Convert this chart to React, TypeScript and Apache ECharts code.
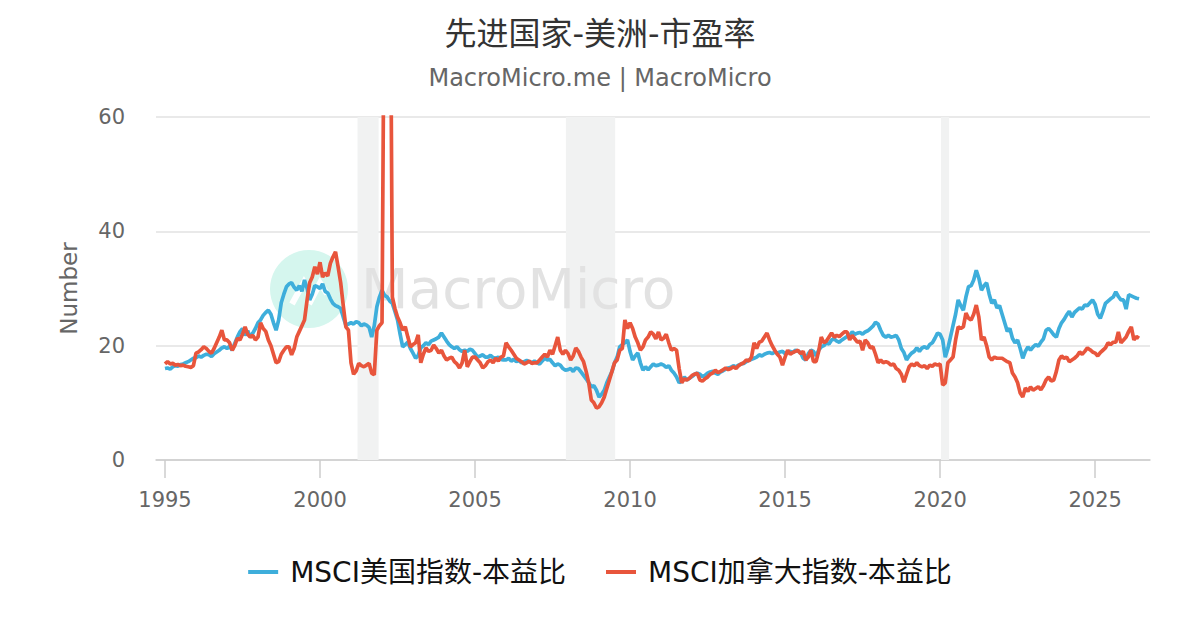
import React, { useEffect, useRef } from "react";
import * as echarts from "echarts";

const START_YEAR = 1995;

// MSCI USA P/E, monthly from Jan 1995
const usPE = [
  16.0, 16.1, 15.9, 16.3, 16.5, 16.4, 16.7, 16.8, 17.0, 17.2, 17.5, 17.8,
  17.9, 18.2, 18.0, 18.3, 18.5, 18.4, 18.1, 18.6, 18.9, 19.2, 19.6, 19.8,
  19.5, 19.9, 19.2, 20.4, 21.5, 22.4, 23.0, 21.8, 22.6, 21.5, 22.2, 23.0,
  24.0, 24.5, 25.3, 25.8, 26.2, 25.5, 24.0, 22.7, 24.5, 27.5, 29.0, 30.3,
  30.8, 31.0, 30.2, 29.7, 30.5, 29.5, 31.5, 30.0, 28.0, 29.0, 30.5, 30.3,
  30.0, 30.8, 29.5, 29.2, 28.2, 27.4, 27.0, 26.8, 26.5, 25.0, 23.6, 23.8,
  24.0, 23.8, 24.2, 24.0, 23.5, 23.8, 23.6, 23.2, 21.5, 23.5, 26.8, 28.5,
  29.7, 28.8, 28.5, 27.8, 27.4, 26.0, 24.5, 22.0, 19.8, 20.2, 20.6, 19.5,
  18.7, 17.8, 18.3, 19.6, 20.0, 20.5, 20.2, 20.8, 21.0, 21.2, 21.5, 22.2,
  21.5, 20.8, 20.2, 19.8, 19.5, 19.8, 19.3, 19.0, 19.2, 19.0, 19.4, 19.2,
  18.6, 18.0, 18.2, 18.4, 18.0, 18.0, 18.3, 17.9, 17.8, 18.0, 17.6, 17.5,
  17.5, 17.8, 17.3, 17.6, 17.2, 17.4, 17.0, 17.2, 17.4, 17.2, 17.0, 17.3,
  17.0, 16.8, 17.3, 17.8, 17.5, 17.6, 17.0, 16.5, 16.8, 16.6, 16.0, 15.7,
  15.8, 16.0, 15.5, 16.1, 16.0, 15.4, 14.8, 14.2, 13.5, 12.8, 13.0, 12.2,
  11.0, 11.5, 12.2, 13.5, 14.5, 15.5, 17.0, 18.0, 19.8, 20.2, 20.5, 21.0,
  19.0, 17.5, 18.2, 18.7, 17.0, 15.7, 16.3, 15.8, 16.3, 16.8, 16.5, 16.6,
  16.8, 16.6, 16.2, 16.5, 15.7, 15.2, 14.5, 13.5, 13.8, 14.5, 14.0, 14.3,
  14.6, 15.0, 15.2, 15.0, 14.6, 14.8, 15.2, 15.4, 15.5, 15.2, 15.0, 15.4,
  15.6, 15.9, 16.1, 16.2, 16.5, 16.3, 16.6, 16.8, 16.9, 17.2, 17.5, 17.6,
  17.8, 18.0, 18.4, 18.2, 18.5, 18.7, 18.8, 18.6, 18.9, 18.7, 18.9, 19.0,
  18.6, 18.9, 19.0, 18.8, 19.2, 19.0, 18.8, 17.8, 17.5, 18.6, 19.2, 19.0,
  18.2, 19.2, 19.8, 20.0, 20.5, 20.3, 21.0, 21.2, 20.8, 20.6, 21.0, 21.3,
  21.6, 21.8, 22.4, 22.0, 22.2, 22.3, 22.0, 22.4, 22.6, 23.0, 23.4, 24.1,
  23.8, 22.7, 21.8, 21.5, 21.8, 21.5, 21.6, 21.8, 21.0, 19.5, 18.8, 17.5,
  18.2, 18.7, 19.0, 19.6, 19.0, 19.6, 19.8, 19.5, 20.2, 20.5, 21.3, 22.2,
  22.0, 21.0, 18.0, 19.5, 21.5, 23.5, 25.5, 28.0, 27.0, 26.2, 28.5, 30.3,
  30.5, 31.5, 33.2, 31.8, 29.7, 30.5, 31.0, 29.0, 27.4, 28.0, 26.6, 27.0,
  25.5, 24.0, 22.5, 23.0, 21.3, 20.5, 21.0, 19.5, 17.8, 19.0, 19.8, 19.2,
  19.8, 20.2, 19.9, 20.6, 21.2, 22.7, 23.0, 22.5, 21.9, 21.5, 23.0, 24.0,
  24.6, 25.4, 26.0, 25.0, 25.8, 26.2, 26.6, 26.4, 27.1, 27.0, 27.5, 28.0,
  27.2, 25.5, 24.8, 26.0, 27.4, 27.8, 28.2, 28.5, 29.4, 28.6, 28.0, 28.0,
  26.4, 28.9, 28.7, 28.5, 28.3, 28.2,
];

// MSCI Canada P/E, monthly from Jan 1995
const caPE = [
  16.8, 17.2, 16.8, 16.9, 16.6, 16.7, 16.5, 16.6, 16.4, 16.3, 16.2, 16.5,
  18.7, 18.9, 19.3, 19.8, 19.5, 19.0, 18.7, 19.5, 20.5, 21.5, 22.7, 21.0,
  21.0, 20.5, 19.2, 20.0, 21.3, 21.0, 22.0, 23.3, 22.0, 21.5, 21.8, 21.0,
  21.5, 24.0, 23.0, 22.5, 21.0, 20.0, 18.5, 17.0, 17.2, 18.5, 19.2, 19.8,
  19.8, 18.4, 19.5, 21.5, 22.5, 23.5, 24.5, 28.0, 31.0, 32.0, 33.8, 32.5,
  34.6, 32.0, 32.7, 32.2, 34.4, 35.5, 36.4, 33.8, 31.0, 27.0, 23.3, 22.7,
  17.0, 15.0, 15.6, 16.9, 16.5, 16.3, 16.6, 16.9, 15.2, 14.9, 22.7, 23.5,
  24.0, 95.0, 130.0, 105.0, 28.5, 26.5, 25.0, 24.0, 22.7, 23.3, 21.5, 19.8,
  20.2, 20.5, 21.9, 17.0, 18.5, 19.6, 19.0, 19.2, 20.1, 19.5, 18.7, 19.2,
  18.2, 17.5, 17.8, 18.0, 17.2, 16.8, 16.1, 17.0, 19.2, 16.3, 17.2, 18.0,
  18.0, 17.5, 17.0, 16.1, 16.5, 17.2, 17.5, 17.0, 17.8, 17.3, 18.0, 18.2,
  20.5, 19.8, 19.2, 18.5, 17.8, 17.5, 17.2, 16.8, 17.0, 17.3, 16.9, 17.0,
  17.0, 17.5, 18.0, 18.5, 18.0, 19.2, 18.5, 20.0, 21.5, 19.2, 18.5, 19.2,
  18.6, 17.5, 18.2, 19.6, 19.0, 18.0, 17.2, 15.5, 13.5, 10.5, 10.0, 9.1,
  9.3, 10.0, 11.0, 12.5, 14.0, 15.5, 17.0, 17.5, 19.2, 19.5, 24.5, 23.0,
  24.0, 23.0, 21.5, 20.5, 19.2, 19.8, 21.0, 21.5, 22.4, 22.0, 21.2, 22.4,
  21.0, 21.3, 22.0, 20.5, 19.2, 19.5, 19.2, 16.0, 13.5, 14.2, 14.0, 14.3,
  14.8, 15.0, 15.2, 14.0, 13.8, 14.2, 14.5, 15.0, 15.2, 15.7, 15.3, 15.5,
  15.8, 16.1, 15.8, 16.0, 16.3, 16.0, 16.5, 16.8, 17.0, 17.5, 17.3, 18.0,
  20.5, 19.5, 20.6, 20.8, 21.5, 22.2, 21.0, 20.0, 19.2, 18.5, 18.0, 16.6,
  18.0, 19.2, 18.5, 18.8, 19.0, 19.2, 18.6, 19.0, 17.5, 18.0, 19.2, 17.2,
  17.2, 19.0, 21.5, 20.5, 20.8, 21.5, 22.2, 21.5, 21.8, 21.6, 22.0, 22.4,
  22.4, 21.0, 21.8, 21.2, 20.6, 20.8, 19.2, 21.0, 20.5, 19.6, 19.8, 18.5,
  17.0, 17.5, 17.0, 17.2, 17.0, 16.6, 16.8, 16.0, 15.7, 15.0, 13.6, 15.0,
  16.3, 16.8, 16.5, 17.0, 16.5, 16.3, 16.5, 16.0, 16.6, 16.4, 16.8, 16.6,
  16.8, 13.1, 13.5, 17.0, 17.5, 18.0, 21.0, 23.3, 23.0, 23.3, 25.7, 24.8,
  24.5, 25.5, 27.1, 25.0, 21.0, 21.5, 20.0, 18.0, 17.5, 18.0, 17.8, 17.8,
  17.8, 17.5, 17.2, 17.0, 15.2, 14.5, 13.5, 11.7, 11.0, 12.6, 12.0, 12.8,
  12.2, 12.5, 12.8, 12.3, 13.0, 14.0, 14.5, 13.8, 14.0, 15.5, 17.5, 18.2,
  17.8, 18.0, 17.2, 17.5, 17.8, 18.2, 18.9, 18.5, 19.0, 19.6, 19.3, 18.9,
  18.7, 18.2, 18.8, 19.2, 19.6, 20.5, 20.2, 20.6, 20.6, 22.4, 20.5, 21.0,
  21.5, 22.5, 23.3, 21.0, 21.6, 21.3,
];

const yearTicks = [1995, 2000, 2005, 2010, 2015, 2020, 2025];
const yTicks = [0, 20, 40, 60];
// recession periods, in decimal years
const recessions = [
  [2001.21, 2001.89],
  [2007.93, 2009.52],
  [2020.03, 2020.29],
];
const X_MIN = 1994.71;
const X_MAX = 2026.77;
const seriesNames = ["MSCI美国指数-本益比", "MSCI加拿大指数-本益比"];
const seriesColors = ["#3eaedb", "#e8553c"];

const FONT = "'DejaVu Sans', 'Noto Sans CJK SC', sans-serif";

function toPoints(vals: number[]) {
  return vals.map((v, i) => [START_YEAR + i / 12, v]);
}

export default function App() {
  const ref = useRef<HTMLDivElement>(null);

  useEffect(() => {
    if (!ref.current) return;
    const chart = echarts.init(ref.current, undefined, { renderer: "svg" });

    chart.setOption({
      animation: false,
      backgroundColor: "#ffffff",
      textStyle: { fontFamily: FONT },
      title: [
        {
          text: "先进国家-美洲-市盈率",
          left: "center",
          top: 13,
          textStyle: {
            fontSize: 32,
            fontWeight: "normal",
            color: "#333333",
            fontFamily: FONT,
          },
        },
        {
          text: "MacroMicro.me | MacroMicro",
          left: "center",
          top: 61,
          textStyle: {
            fontSize: 24,
            fontWeight: "normal",
            color: "#666666",
            fontFamily: FONT,
          },
        },
      ],
      legend: {
        top: 553,
        left: "center",
        icon: "rect",
        itemWidth: 30,
        itemHeight: 4,
        itemGap: 40,
        data: seriesNames,
        textStyle: {
          fontSize: 28,
          color: "#111111",
          fontFamily: FONT,
          padding: [0, 0, 0, 7],
        },
      },
      grid: { left: 156, right: 50, top: 117, bottom: 170, containLabel: false },
      graphic: [
        {
          type: "circle",
          z: 1.5,
          silent: true,
          shape: { cx: 309, cy: 289, r: 39 },
          style: { fill: "#d5f6ee" },
        },
        {
          type: "polyline",
          z: 1.5,
          silent: true,
          shape: {
            points: [
              [292, 304],
              [304, 282],
              [311, 294],
            ],
          },
          style: { stroke: "#ffffff", lineWidth: 6, fill: "none" },
        },
        {
          type: "polyline",
          z: 1.5,
          silent: true,
          shape: {
            points: [
              [309, 304],
              [320, 283],
              [327, 294],
            ],
          },
          style: { stroke: "#ffffff", lineWidth: 6, fill: "none" },
        },
        {
          type: "text",
          z: 1.5,
          silent: true,
          x: 361,
          y: 289,
          style: {
            text: "MacroMicro",
            fontSize: 55,
            fontFamily: FONT,
            fill: "#e2e2e2",
            verticalAlign: "middle",
            align: "left",
          },
        },
      ],
      xAxis: {
        type: "value",
        min: X_MIN,
        max: X_MAX,
        axisLine: { show: true, lineStyle: { color: "#cccccc", width: 1.5 } },
        axisTick: {
          show: true,
          length: 18,
          customValues: yearTicks,
          lineStyle: { color: "#cccccc", width: 1.5 },
        },
        axisLabel: {
          customValues: yearTicks,
          formatter: (v: number) => String(Math.round(v)),
          fontSize: 21,
          color: "#666666",
          margin: 29,
          fontFamily: FONT,
        },
        splitLine: { show: false },
      },
      yAxis: {
        type: "value",
        min: yTicks[0],
        max: yTicks[yTicks.length - 1],
        interval: 20,
        name: "Number",
        nameLocation: "middle",
        nameGap: 76,
        nameTextStyle: { fontSize: 23, color: "#666666", fontFamily: FONT },
        axisLine: { show: false },
        axisTick: { show: false },
        axisLabel: {
          fontSize: 21,
          color: "#666666",
          margin: 31,
          fontFamily: FONT,
        },
        splitLine: { lineStyle: { color: "#e2e2e2", width: 1.5 } },
      },
      series: [
        {
          name: seriesNames[0],
          type: "line",
          data: toPoints(usPE),
          showSymbol: false,
          symbol: "none",
          clip: true,
          lineStyle: { width: 3.7, color: seriesColors[0] },
          itemStyle: { color: seriesColors[0] },
          markArea: {
            silent: true,
            z: 1,
            itemStyle: { color: "#f1f2f2" },
            label: { show: false },
            data: recessions.map((r) => [{ xAxis: r[0] }, { xAxis: r[1] }]),
          },
        },
        {
          name: seriesNames[1],
          type: "line",
          data: toPoints(caPE),
          showSymbol: false,
          symbol: "none",
          clip: true,
          lineStyle: { width: 3.7, color: seriesColors[1] },
          itemStyle: { color: seriesColors[1] },
        },
      ],
    });

    return () => chart.dispose();
  }, []);

  return (
    <div
      ref={ref}
      style={{ position: "absolute", left: 0, top: 0, width: 1200, height: 630 }}
    />
  );
}
